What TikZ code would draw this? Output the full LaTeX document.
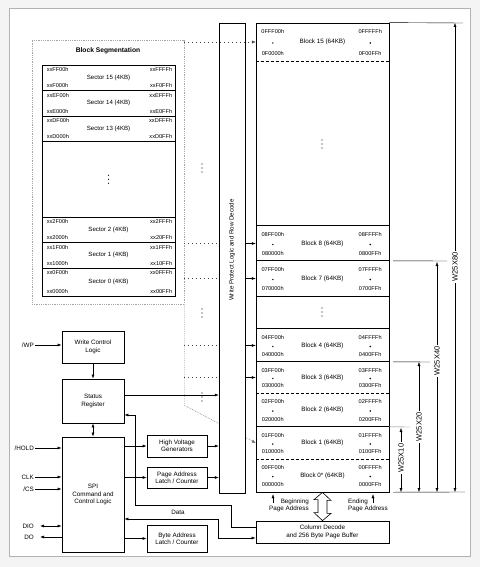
\documentclass[tikz,border=0pt]{standalone}
\usepackage{fontspec}
\setmainfont{Liberation Sans}
\usetikzlibrary{calc, arrows.meta}
\tikzset{
    box/.style={draw, thick, fill=white, align=center, inner sep=1pt, font=\fontsize{6.3}{7.3}\selectfont},
    latchbox/.style={box, semithick},
    addr/.style={inner sep=0pt, font=\fontsize{5.6}{6}\selectfont},
    blockcell/.style={minimum width=133pt, inner sep=0pt, font=\fontsize{6.3}{7}\selectfont},
    sectorcell/.style={draw, thick, minimum width=133pt, inner sep=0pt, font=\fontsize{6.1}{7}\selectfont},
    seg/.style={black!75, dash pattern=on 1.2pt off 2.8pt},
    segfine/.style={gray!80!black, dash pattern=on 0.8pt off 1pt},
    arr/.style={semithick, -{Latex[length=4pt, width=3pt]}},
    pin/.style={inner sep=1pt, font=\fontsize{6.3}{7}\selectfont},
    dim/.style={thin, {Latex[length=4pt, width=3pt]}-{Latex[length=4pt, width=3pt]}},
    dimlabel/.style={fill=white, rotate=90, inner sep=1.5pt, font=\fontsize{7.5}{8}\selectfont},
    threedots/.pic={\fill (0,-4) circle (0.7) (0,0) circle (0.7) (0,4) circle (0.7);},
    common settings/.style={x=1pt, y=-1pt}
}

% one sector of the segmentation table
\newcommand\sectorrow[8]{%
    \node[sectorcell, minimum height={(#3-#2)*1pt}] (#1) at (108.5,{(#2+#3)/2}) {Sector #4 (4KB)};
    \node[addr, anchor=west] at ($(#1.north west)+(5,5)$) {#5};
    \node[addr, anchor=west] at ($(#1.south west)+(5,-5)$) {#6};
    \node[addr, anchor=east] at ($(#1.north east)+(-3,5)$) {#7};
    \node[addr, anchor=east] at ($(#1.south east)+(-3,-5)$) {#8};
}
% one 64KB block of the memory array
\newcommand\blockrow[8]{%
    \node[blockcell, minimum height={(#3-#2)*1pt}] (#1) at (322.5,{(#2+#3)/2}) {Block #4 (64KB)};
    \node[addr] at ($(#1.north west)+(17,9)$) {#5};
    \fill ($(#1.west)+(17,1)$) circle (0.8);
    \node[addr] at ($(#1.south west)+(17,-8)$) {#6};
    \node[addr] at ($(#1.north east)+(-19,9)$) {#7};
    \fill ($(#1.east)+(-19,1)$) circle (0.8);
    \node[addr] at ($(#1.south east)+(-19,-8)$) {#8};
}

\begin{document}
\begin{tikzpicture}[common settings]

    % Page and frame
    \useasboundingbox (0,0) rectangle (480,567);
    \fill[gray!9] (0,0) rectangle (480,567);
    \draw[gray!60, fill=white] (9,8) rectangle (470,556);

    % Block Segmentation
    \node[draw=gray!70, dash pattern=on 0.8pt off 1pt, minimum width=152pt, minimum height=264pt] (segbox) at (108,172) {};
    \node[font=\fontsize{6.7}{7}\selectfont\bfseries] (segtitle) at (108,51) {Block Segmentation};
    \sectorrow{s15}{65}{90.5}{15}{xxFF00h}{xxF000h}{xxFFFFh}{xxF0FFh}
    \sectorrow{s14}{90.5}{116}{14}{xxEF00h}{xxE000h}{xxEFFFh}{xxE0FFh}
    \sectorrow{s13}{116}{141.5}{13}{xxDF00h}{xxD000h}{xxDFFFh}{xxD0FFh}
    \node[sectorcell, minimum height=75.5pt] (sblank) at (108.5,179.25) {};
    \pic at (sblank.center) {threedots};
    \sectorrow{s2}{217}{242.5}{2}{xx2F00h}{xx2000h}{xx2FFFh}{xx20FFh}
    \sectorrow{s1}{242.5}{268}{1}{xx1F00h}{xx1000h}{xx1FFFh}{xx10FFh}
    \sectorrow{s0}{268}{296}{0}{xx0F00h}{xx0000h}{xx0FFFh}{xx00FFh}

    % Memory array
    \node[draw, thick, minimum width=133pt, minimum height=469pt] (array) at (322.5,257.5) {};
    \blockrow{b15}{23}{61}{15}{0FFF00h}{0F0000h}{0FFFFFh}{0F00FFh}
    \blockrow{b8}{226}{261}{8}{08FF00h}{080000h}{08FFFFh}{0800FFh}
    \blockrow{b7}{261}{296}{7}{07FF00h}{070000h}{07FFFFh}{0700FFh}
    \blockrow{b4}{329}{362}{4}{04FF00h}{040000h}{04FFFFh}{0400FFh}
    \blockrow{b3}{362}{393}{3}{03FF00h}{030000h}{03FFFFh}{0300FFh}
    \blockrow{b2}{393}{427}{2}{02FF00h}{020000h}{02FFFFh}{0200FFh}
    \blockrow{b1}{427}{459}{1}{01FF00h}{010000h}{01FFFFh}{0100FFh}
    \blockrow{b0}{459}{492}{0*}{00FF00h}{000000h}{00FFFFh}{0000FFh}
    \pic at (322,144) {threedots};
    \pic at (322,312) {threedots};
    \foreach \b in {b8, b7, b4, b3, b1}
        \draw[thick] (\b.north west) -- (\b.north east);
    \draw[thick] (b7.south west) -- (b7.south east);
    \foreach \b in {b15, b3, b1}
        \draw[thick, dash pattern=on 3pt off 2pt] (\b.south west) -- (\b.south east);

    % Dotted lines towards the row decoder
    \foreach \b in {b8, b7, b4, b3}
        \draw[seg] (segbox.east |- \b.west) -- (219,0 |- \b.west);
    \draw[segfine, -{Latex[length=4pt, width=3pt]}] (segbox.south east) -- ++(0,101) -- (b1.west);
    \pic at (202,168) {threedots};
    \pic at (202,313) {threedots};

    % Write Protect Logic and Row Decode
    \node[draw, fill=white, minimum width=26pt, minimum height=470pt] (wpl) at (232,258) {};
    \node[rotate=90, font=\fontsize{6.2}{7}\selectfont] (wpltext) at (232,250) {Write Protect Logic and Row Decode};
    \draw[seg, -{Latex[length=4pt, width=3pt]}] (segbox.east |- b15.west) -- (b15.west);
    \foreach \b in {b8, b7, b4, b3}
        \draw[arr] (wpl.east |- \b.west) -- (\b.west);

    % Control logic
    \node[box, minimum width=62pt, minimum height=32pt] (wcl) at (93,347) {Write Control\\Logic};
    \node[box, minimum width=62pt, minimum height=44pt] (sreg) at (93,401) {Status\\Register};
    \node[box, minimum width=62pt, minimum height=115pt] (spi) at (93,494.5) {SPI\\Command and\\Control Logic};
    \node[latchbox, minimum width=60pt, minimum height=22pt] (hvg) at (177,446) {High Voltage\\Generators};
    \node[latchbox, minimum width=60pt, minimum height=21pt] (pal) at (177,477.5) {Page Address\\Latch / Counter};
    \node[latchbox, minimum width=60pt, minimum height=27pt] (bal) at (177,538.5) {Byte Address\\Latch / Counter};
    \node[box, minimum width=133pt, minimum height=22pt] (coldec) at (322.5,532) {Column Decode\\and 256 Byte Page Buffer};

    \draw[arr] (wcl) -- (sreg);
    \draw[semithick, {Latex[length=4pt, width=3pt]}-{Latex[length=4pt, width=3pt]}] (sreg) -- (spi);
    \draw[arr] ([yshift=6pt]sreg.east) -- ([yshift=6pt]sreg.east -| wpl.west);
    \pic at (202,397) {threedots};
    \draw[arr, thick] (spi.east |- hvg.west) -- (hvg.west);
    \draw[arr] (spi.east |- pal.west) -- (pal.west);
    \draw[arr, thick] (spi.east |- bal.west) -- (bal.west);
    \draw[arr] (hvg.east) -- (hvg.east -| wpl.west);
    \draw[arr] (pal.east) -- (pal.east -| wpl.west);
    \draw[arr] ([yshift=5pt]coldec.west) -- ++(-24,0) |- (135,505) |- ([yshift=-14pt]sreg.east);
    \draw[semithick, {Latex[length=4pt, width=3pt]}-{Latex[length=4pt, width=3pt]}] ([yshift=-24.5pt]spi.east) -| (218,538) -- ([yshift=-6pt]coldec.west);
    \node[pin] (datalbl) at (178,512) {Data};

    % Pins
    \node[pin, anchor=east] (pwp) at (35,345) {/WP};
    \node[pin, anchor=east] (phold) at (35,448) {/HOLD};
    \node[pin, anchor=east] (pclk) at (35,477) {CLK};
    \node[pin, anchor=east] (pcs) at (35,489) {/CS};
    \node[pin, anchor=east] (pdio) at (35,526) {DIO};
    \node[pin, anchor=east] (pdo) at (35,537) {DO};
    \draw[arr] (pwp.east) -- (pwp.east -| wcl.west);
    \draw[arr] (phold.east) -- (phold.east -| spi.west);
    \draw[arr] (pclk.east) -- (pclk.east -| spi.west);
    \draw[arr] (pcs.east) -- (pcs.east -| spi.west);
    \draw[semithick, {Latex[length=4pt, width=3pt]}-{Latex[length=4pt, width=3pt]}, shorten <=5pt] (pdio.east) -- (pdio.east -| spi.west);
    \draw[arr, shorten >=5pt] (pdo.east -| spi.west) -- (pdo.east);

    % Page buffer bus
    \draw[semithick, fill=white] (array.south) -- ++(8.5,8) -- ++(-4,0) -- ++(0,13) -- ++(4,0) -- (coldec.north)
        -- ++(-8.5,-8) -- ++(4,0) -- ++(0,-13) -- ++(-4,0) -- cycle;
    \node[pin, align=right] (beg) at (289,505) {Beginning\\Page Address};
    \node[pin, align=left] (endl) at (368,505) {Ending\\Page Address};
    \draw[arr, thin] ([xshift=5pt,yshift=2pt]beg.west) -- ([xshift=5pt,yshift=-2pt]beg.west |- b0.south);
    \draw[arr, thin] ([xshift=-16pt,yshift=2pt]endl.east) -- ([xshift=-16pt,yshift=-2pt]endl.east |- b0.south);

    % Device densities
    \coordinate (top80) at (463,23);
    \coordinate (top40) at (447,261);
    \coordinate (top20) at (430,362);
    \coordinate (top10) at (410,427);
    \coordinate (base) at (465,492);
    \draw[thin] (array.north east) -- (top80);
    \draw[thin] ([xshift=4pt]b7.north east) -- (top40);
    \draw[thin] ([xshift=4pt]b3.north east) -- (top20);
    \draw[thin, gray] (b1.north east) -- (top10);
    \draw[thin] ([xshift=4pt]b0.south east) -- (base);
    \draw[dim] (455,23) -- (455,492) node[dimlabel, pos=0.52] {W25X80};
    \draw[dim] (437,262) -- (437,492) node[dimlabel, pos=0.43] {W25X40};
    \draw[dim] (419,362) -- (419,492) node[dimlabel, pos=0.5] {W25X20};
    \draw[dim] (401,428) -- (401,492) node[dimlabel, pos=0.47] {W25X10};

\end{tikzpicture}
\end{document}
